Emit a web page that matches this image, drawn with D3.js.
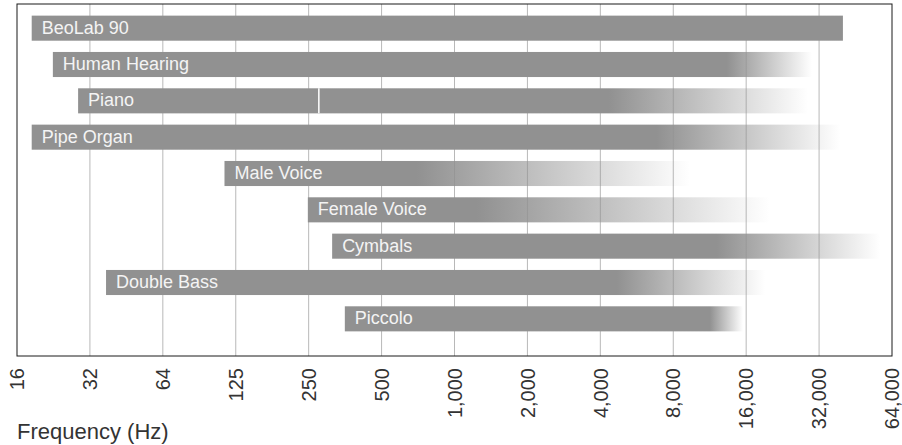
<!DOCTYPE html>
<html lang="en">
<head>
  <meta charset="UTF-8" />
  <title>Frequency ranges</title>
  <script src="https://d3js.org/d3.v7.min.js"></script>
  <style>
    body {
      margin: 0;
      padding: 0;
      background: white;
      font-family: "Liberation Sans", Arial, sans-serif;
    }
    svg {
      display: block;
    }
  </style>
</head>
<body>
  <svg id="chart" width="902" height="445"></svg>

  <script>
    // rows of the chart (Hz)
    const instruments = ["BeoLab 90", "Human Hearing", "Piano", "Pipe Organ", "Male Voice",
                         "Female Voice", "Cymbals", "Double Bass", "Piccolo"];
    const lowHz   = [18.4, 22.5, 28.6, 18.4, 115, 254, 320, 37.3, 361];
    const solidHz = [41100, 13650, 4450, 7000, 717, 1268, 12400, 4800, 11600];
    const highHz  = [41100, 30600, 29500, 40000, 9600, 20500, 58500, 19600, 15900];
    const breakHz = [null, null, 282, null, null, null, null, null, null];

    const tickHz = [16, 32, 64, 128, 256, 512, 1024, 2048, 4096, 8192, 16384, 32768, 65536];
    const tickLabels = ["16", "32", "64", "125", "250", "500", "1,000", "2,000",
                        "4,000", "8,000", "16,000", "32,000", "64,000"];

    const svg = d3.select("#chart");
    const margin = { top: 4, left: 17 };
    const width = 875;
    const height = 352;

    const g = svg.append("g").attr("transform", `translate(${margin.left},${margin.top})`);

    const x = d3.scaleLog().base(2)
      .domain([tickHz[0], tickHz[tickHz.length - 1]])
      .range([0, width]);

    const y = d3.scaleBand()
      .domain(instruments)
      .range([6, 333])
      .paddingInner(0.31)
      .paddingOuter(0.155);

    // grid
    g.append("g")
      .selectAll("line")
      .data(tickHz.slice(1, -1))
      .join("line")
      .attr("x1", d => x(d))
      .attr("x2", d => x(d))
      .attr("y1", 0)
      .attr("y2", height)
      .attr("stroke", "#b8b8b8")
      .attr("stroke-width", 1);

    const rows = instruments.map((name, i) => ({
      name, low: lowHz[i], solid: solidHz[i], high: highHz[i], brk: breakHz[i], i
    }));

    // one gradient per row: solid grey up to the fundamental limit, then fading out
    const defs = svg.append("defs");
    rows.forEach(d => {
      const frac = (x(d.solid) - x(d.low)) / (x(d.high) - x(d.low));
      const grad = defs.append("linearGradient")
        .attr("id", "fade" + d.i)
        .attr("x1", "0%").attr("x2", "100%")
        .attr("y1", "0%").attr("y2", "0%");
      grad.append("stop").attr("offset", 0)
        .attr("stop-color", "#919191").attr("stop-opacity", 1);
      grad.append("stop").attr("offset", frac)
        .attr("stop-color", "#919191").attr("stop-opacity", 1);
      grad.append("stop").attr("offset", 1)
        .attr("stop-color", "#919191").attr("stop-opacity", frac < 1 ? 0 : 1);
    });

    const bar = g.selectAll(".row")
      .data(rows)
      .join("g")
      .attr("class", "row");

    bar.append("rect")
      .attr("x", d => x(d.low))
      .attr("y", d => y(d.name))
      .attr("width", d => x(d.high) - x(d.low))
      .attr("height", y.bandwidth())
      .attr("fill", d => `url(#fade${d.i})`);

    bar.filter(d => d.brk)
      .append("line")
      .attr("x1", d => x(d.brk))
      .attr("x2", d => x(d.brk))
      .attr("y1", d => y(d.name))
      .attr("y2", d => y(d.name) + y.bandwidth())
      .attr("stroke", "white")
      .attr("stroke-width", 1.5);

    bar.append("text")
      .attr("x", d => x(d.low) + 10)
      .attr("y", d => y(d.name) + y.bandwidth() / 2)
      .attr("dy", "0.3em")
      .attr("fill", "#f4f4f4")
      .attr("font-size", "18px")
      .text(d => d.name);

    // frame
    g.append("rect")
      .attr("width", width)
      .attr("height", height)
      .attr("fill", "none")
      .attr("stroke", "#1a1a1a")
      .attr("stroke-width", 1);

    // x tick labels, rotated
    g.append("g")
      .selectAll("text")
      .data(tickHz)
      .join("text")
      .attr("transform", d => `translate(${x(d)},${height + 12}) rotate(-90)`)
      .attr("text-anchor", "end")
      .attr("dy", "0.36em")
      .attr("fill", "#333")
      .attr("font-size", "20px")
      .text((d, i) => tickLabels[i]);

    svg.append("text")
      .attr("x", margin.left)
      .attr("y", 439)
      .attr("fill", "#333")
      .attr("font-size", "22px")
      .text("Frequency (Hz)");
  </script>
</body>
</html>
